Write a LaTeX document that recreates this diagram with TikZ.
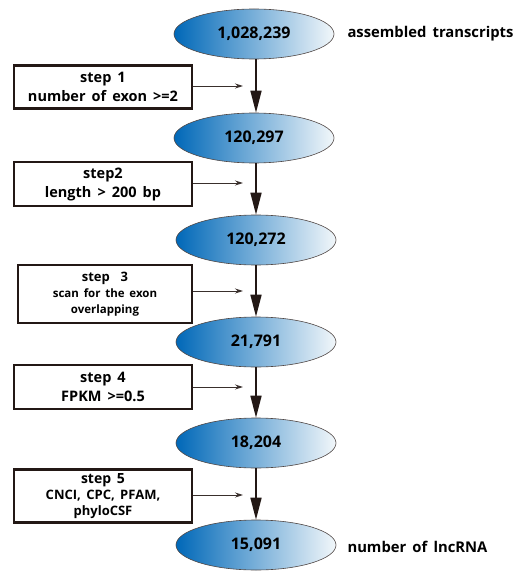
\documentclass[tikz,border=0pt]{standalone}
\usepackage{fontspec}
\setmainfont{Open Sans}[WordSpace=1.6]
\usetikzlibrary{arrows.meta,shapes.geometric}
\definecolor{deepblue}{RGB}{0,104,184}
\definecolor{midblue}{RGB}{20,160,212}
\definecolor{paleblue}{RGB}{242,247,250}
\definecolor{inkdark}{RGB}{35,24,21}
\tikzset{
  count/.style={ellipse, draw=inkdark!80, line width=0.6pt, left color=deepblue,
    middle color=midblue, right color=paleblue, minimum width=160pt,
    minimum height=50pt, inner sep=0pt, font=\bfseries\fontsize{16}{18}\selectfont},
  stepbox/.style={rectangle, draw=inkdark, line width=2.4pt, minimum width=178pt,
    align=center, inner sep=2pt, font=\bfseries\fontsize{14.5}{19}\selectfont},
  note/.style={anchor=west, font=\bfseries\fontsize{14.8}{17}\selectfont},
  flow/.style={draw=inkdark, line width=1.6pt, -{Triangle[length=22pt,width=11pt]}},
  hint/.style={draw=inkdark!90, line width=0.9pt, -{Stealth[length=8pt,width=5pt]}}
}
\begin{document}
\begin{tikzpicture}[x=1pt, y=-1pt]
  \useasboundingbox (0,0) rectangle (517,572);
  % filtering counts
  \node[count] (e1) at (254,34) {1,028,239};
  \node[count] (e2) at (254,138) {120,297};
  \node[count] (e3) at (256,240) {120,272};
  \node[count] (e4) at (256,342) {21,791};
  \node[count] (e5) at (256,443) {18,204};
  \node[count] (e6) at (256,545) {15,091};
  \node[note] (top) at (344,34) {assembled transcripts};
  \node[note] (bottom) at (344,547) {number of lncRNA};
  % filter steps
  \node[stepbox, minimum height=43pt] (s1) at (103,87) {step 1\\number of exon >=2};
  \node[stepbox, minimum height=44pt] (s2) at (103,184) {step2\\length > 200 bp};
  \node[stepbox, minimum height=58pt, minimum width=174pt, font=\bfseries\fontsize{11.5}{16}\selectfont]
    (s3) at (105,294) {\fontsize{13}{16}\selectfont step\ \ 3\\scan for the exon\\overlapping};
  \node[stepbox, minimum height=44pt] (s4) at (103,387) {step 4\\FPKM >=0.5};
  \node[stepbox, minimum height=53pt, font=\bfseries\fontsize{13}{16}\selectfont]
    (s5) at (103,496) {\fontsize{14}{16}\selectfont step 5\\CNCI, CPC, PFAM,\\phyloCSF};
  % arrow ends
  \coordinate (t1) at (243,86);
  \coordinate (t2) at (243,183);
  \coordinate (t3) at (243,291);
  \coordinate (t4) at (243,387);
  \coordinate (t5) at (243,495);
  % main flow
  \draw[flow] (e1.south -| e3.north) -- (e2.north -| e3.north);
  \draw[flow] (e2.south -| e3.north) -- (e3.north);
  \draw[flow] (e3) -- (e4);
  \draw[flow] (e4) -- (e5);
  \draw[flow] (e5) -- (e6);
  % side arrows
  \foreach \i in {1,...,5}
    \draw[hint] (s\i.east |- t\i) -- (t\i);
\end{tikzpicture}
\end{document}
